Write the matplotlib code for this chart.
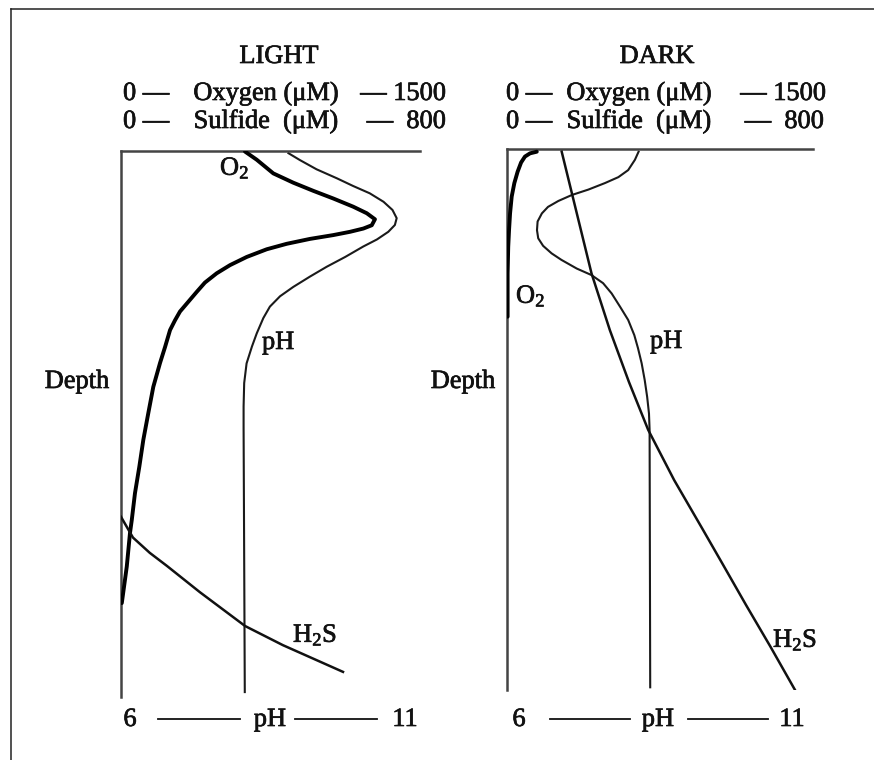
import matplotlib
matplotlib.use("Agg")
import matplotlib.pyplot as plt
import matplotlib.patheffects as pe
from matplotlib.lines import Line2D

plt.rcParams["font.family"] = ["Liberation Serif", "DejaVu Serif"]
plt.rcParams["mathtext.fontset"] = "custom"
plt.rcParams["mathtext.rm"] = "Liberation Serif"
plt.rcParams["mathtext.it"] = "Liberation Serif"

# -------------------------
# data (depth in % of profile, 0 = surface)
# -------------------------
# LIGHT
light_o2_depth = [0.1, 1.6, 4.1, 5.8, 7.3, 8.7, 10.2, 11.4, 12.5, 13.6, 14.2, 14.8,
                  15.4, 16.1, 17.0, 18.0, 19.4, 20.9, 22.4, 24.1, 25.8, 27.6,
                  29.4, 31.0, 32.8, 35.9, 38.8, 43.2, 48.0, 52.9, 57.8, 62.7,
                  67.6, 70.0, 76.1, 82.8]
light_o2 = [622, 681, 764, 864, 965, 1065, 1165, 1233, 1274, 1258, 1216, 1149,
            1065, 948, 831, 731, 631, 547, 480, 421, 380, 338,
            296, 271, 246, 221, 196, 162, 137, 112, 92, 70,
            54, 45, 29, 4]

light_ph_depth = [0.4, 1.65, 3.35, 5.0, 6.4, 7.75, 9.3, 10.8, 12.3, 13.55, 14.8,
                  16.2, 17.5, 19.4, 21.2, 23.0, 24.9, 26.6, 28.5, 30.6, 33.4,
                  35.8, 38.9, 42.5, 46.8, 50.5, 99.1]
light_ph = [8.80, 8.99, 9.27, 9.61, 9.88, 10.16, 10.39, 10.54, 10.61, 10.58, 10.47,
            10.28, 10.05, 9.75, 9.44, 9.16, 8.88, 8.66, 8.49, 8.38, 8.27,
            8.19, 8.10, 8.06, 8.05, 8.05, 8.07]

light_h2s_depth = [67.0, 70.8, 73.6, 76.0, 80.8, 87.0, 90.5, 95.4]
light_h2s = [0, 32, 77, 123, 211, 332, 433, 594]

# DARK
dark_o2_depth = [0.5, 0.8, 1.4, 2.5, 4.2, 6.3, 8.8, 11.9, 15.0, 18.1, 23.0, 31.0]
dark_o2 = [146, 113, 88, 69, 52, 36, 23, 15, 10, 6, 3, 3]

dark_ph_depth = [0.5, 2.0, 3.9, 5.2, 6.3, 7.5, 8.5, 9.6, 10.7, 11.9, 13.4, 15.0,
                 16.5, 17.9, 19.3, 20.5, 22.1, 23.3, 24.8, 26.7, 29.2, 31.6,
                 34.4, 36.8, 39.6, 42.7, 45.8, 48.9, 51.9, 99.5]
dark_ph = [8.15, 8.09, 7.98, 7.82, 7.60, 7.33, 7.06, 6.84, 6.67, 6.57, 6.50, 6.49,
           6.51, 6.59, 6.73, 6.89, 7.14, 7.38, 7.57, 7.71, 7.85, 7.98,
           8.08, 8.14, 8.20, 8.25, 8.29, 8.32, 8.33, 8.34]

dark_h2s_depth = [0.5, 23.0, 33.5, 43.1, 51.9, 61.2, 70.1, 76.5, 84.3, 91.9, 100.0]
dark_h2s = [143, 221, 269, 319, 369, 437, 510, 562, 625, 688, 753]

W, H = 874, 760


def fx(x):
    return x / W


def fy(y):
    return 1 - y / H


fig = plt.figure(figsize=(W / 100, H / 100), dpi=100)
fig.patch.set_facecolor("white")

# outer frame (top + left only)
fig.add_artist(Line2D([fx(11), 1], [fy(9), fy(9)], color="#222", lw=1.1))
fig.add_artist(Line2D([fx(11), fx(11)], [fy(9), 0], color="#222", lw=1.1))


def panel(rect, o2_d, o2, ph_d, ph, h2s_d, h2s):
    ax = fig.add_axes(rect)
    ax.set_xlim(6, 11)
    ax.set_ylim(100, 0)
    ax_o2 = ax.twiny()
    ax_o2.set_xlim(0, 1500)
    ax_s = ax.twiny()
    ax_s.set_xlim(0, 800)
    for a in (ax, ax_o2, ax_s):
        a.set_xticks([])
        a.set_yticks([])
        for s in a.spines.values():
            s.set_visible(False)
    for s in ("top", "left"):
        ax.spines[s].set_visible(True)
        ax.spines[s].set_color("#444")
        ax.spines[s].set_linewidth(1.8)
    ax.plot(ph, ph_d, color="#1a1a1a", lw=1.5, solid_joinstyle="round")
    ax_o2.plot(o2, o2_d, color="#000", lw=2.8, solid_joinstyle="round",
               solid_capstyle="round")
    ax_s.plot(h2s, h2s_d, color="#111", lw=1.8, solid_joinstyle="round")
    return ax


panel([fx(121), fy(697), fx(420 - 121), (697 - 151) / H],
      light_o2_depth, light_o2, light_ph_depth, light_ph,
      light_h2s_depth, light_h2s)
panel([fx(507), fy(690), fx(813 - 507), (690 - 149) / H],
      dark_o2_depth, dark_o2, dark_ph_depth, dark_ph,
      dark_h2s_depth, dark_h2s)

fs = 19
bold_fx = [pe.withStroke(linewidth=0.5, foreground="#111")]


def txt(x, y, s, ha="left", size=fs):
    fig.text(fx(x), fy(y), s, ha=ha, va="baseline", fontsize=size, color="#111",
             path_effects=bold_fx)


# headers
txt(279, 63, "LIGHT", ha="center")
txt(123, 100, "0 —")
txt(266, 100, "Oxygen (μM)", ha="center")
txt(446, 100, "— 1500", ha="right")
txt(123, 128, "0 —")
txt(266, 128, "Sulfide  (μM)", ha="center")
txt(446, 128, "—  800", ha="right")

txt(657, 63, "DARK", ha="center")
txt(506, 100, "0 —")
txt(639, 100, "Oxygen (μM)", ha="center")
txt(826, 100, "— 1500", ha="right")
txt(506, 128, "0 —")
txt(639, 128, "Sulfide  (μM)", ha="center")
txt(824, 128, "—  800", ha="right")

# depth labels
txt(77, 388, "Depth", ha="center")
txt(463, 388, "Depth", ha="center")

# curve labels
txt(220, 175, r"O$_2$")
txt(262, 349, "pH")
txt(293, 642, r"H$_2$S")
txt(516, 303, r"O$_2$")
txt(650, 348, "pH")
txt(773, 647, r"H$_2$S")

# bottom pH scales
for x6, x11, xph, l1, l2 in [(130, 405, 270, (158, 240), (295, 377)),
                             (519, 792, 658, (550, 630), (688, 768))]:
    txt(x6, 726, "6", ha="center")
    txt(xph, 726, "pH", ha="center")
    txt(x11, 726, "11", ha="center")
    for a, b in (l1, l2):
        fig.add_artist(Line2D([fx(a), fx(b)], [fy(719), fy(719)], color="#111", lw=1.3))

fig.savefig("out.png", dpi=100, facecolor="white")
